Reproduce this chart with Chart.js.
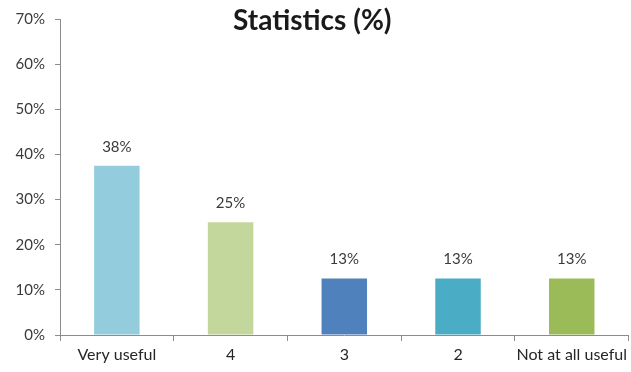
<!DOCTYPE html>
<html>
<head>
<meta charset="utf-8">
<script src="https://cdn.jsdelivr.net/npm/chart.js@4/dist/chart.umd.min.js"></script>
<style>
  html, body { margin: 0; padding: 0; background: #fff; }
  #wrap { width: 631px; height: 372px; position: relative; }
</style>
</head>
<body>
<div id="wrap"><canvas id="c"></canvas></div>
<script>
// Survey answers: share of respondents per usefulness rating
const categories = ['Very useful', '4', '3', '2', 'Not at all useful'];
const shares = [37.5, 25, 12.5, 12.5, 12.5];
const barColors = ['#93CDDD', '#C3D69B', '#4F81BD', '#4BACC6', '#9BBB59'];
const yTicks = [0, 10, 20, 30, 40, 50, 60, 70];
const titleText = 'Statistics (%)';

const fmt = v => Math.round(v) + '%';
const FONT = 'Lato, "Open Sans", "DejaVu Sans", sans-serif';

// Value labels above each bar
const valueLabels = {
  id: 'valueLabels',
  afterDatasetsDraw(chart) {
    const ctx = chart.ctx;
    const meta = chart.getDatasetMeta(0);
    ctx.save();
    ctx.font = '15px ' + FONT;
    ctx.fillStyle = '#3a3a3a';
    ctx.textAlign = 'center';
    ctx.textBaseline = 'middle';
    meta.data.forEach((bar, i) => {
      ctx.fillText(fmt(shares[i]), bar.x, bar.y - 19);
    });
    ctx.restore();
  }
};

// Chart title drawn over the top of the plot area
const topTitle = {
  id: 'topTitle',
  afterDraw(chart) {
    const ctx = chart.ctx;
    const a = chart.chartArea;
    ctx.save();
    ctx.font = 'bold 28px ' + FONT;
    ctx.fillStyle = '#1a1a1a';
    ctx.textAlign = 'center';
    ctx.textBaseline = 'middle';
    ctx.fillText(titleText, (a.left + a.right) / 2 - 32, 21);
    ctx.restore();
  }
};

new Chart(document.getElementById('c'), {
  type: 'bar',
  data: {
    labels: categories,
    datasets: [{
      data: shares,
      backgroundColor: barColors,
      borderWidth: 0,
      barPercentage: 0.4,
      categoryPercentage: 1.0
    }]
  },
  options: {
    responsive: true,
    maintainAspectRatio: false,
    animation: false,
    layout: { padding: { top: 14, right: 0, bottom: 0, left: 0 } },
    plugins: {
      legend: { display: false },
      tooltip: { enabled: false },
      title: { display: false }
    },
    scales: {
      x: {
        grid: {
          offset: true,
          drawOnChartArea: false,
          drawTicks: true,
          tickLength: 6,
          color: '#8c8c8c'
        },
        border: { color: '#8c8c8c', width: 1 },
        ticks: {
          color: '#262626',
          font: { family: FONT, size: 16 },
          padding: 4,
          maxRotation: 0,
          autoSkip: false
        },
        afterFit(scale) { scale.height = 37; }
      },
      y: {
        min: 0,
        max: 70,
        afterBuildTicks(scale) { scale.ticks = yTicks.map(v => ({ value: v })); },
        grid: {
          drawOnChartArea: false,
          drawTicks: true,
          tickLength: 5,
          color: '#8c8c8c'
        },
        border: { color: '#8c8c8c', width: 1 },
        ticks: {
          color: '#3a3a3a',
          font: { family: FONT, size: 15 },
          padding: 10,
          callback: v => v + '%'
        },
        afterFit(scale) { scale.width = 60; }
      }
    }
  },
  plugins: [valueLabels, topTitle]
});
</script>
</body>
</html>
